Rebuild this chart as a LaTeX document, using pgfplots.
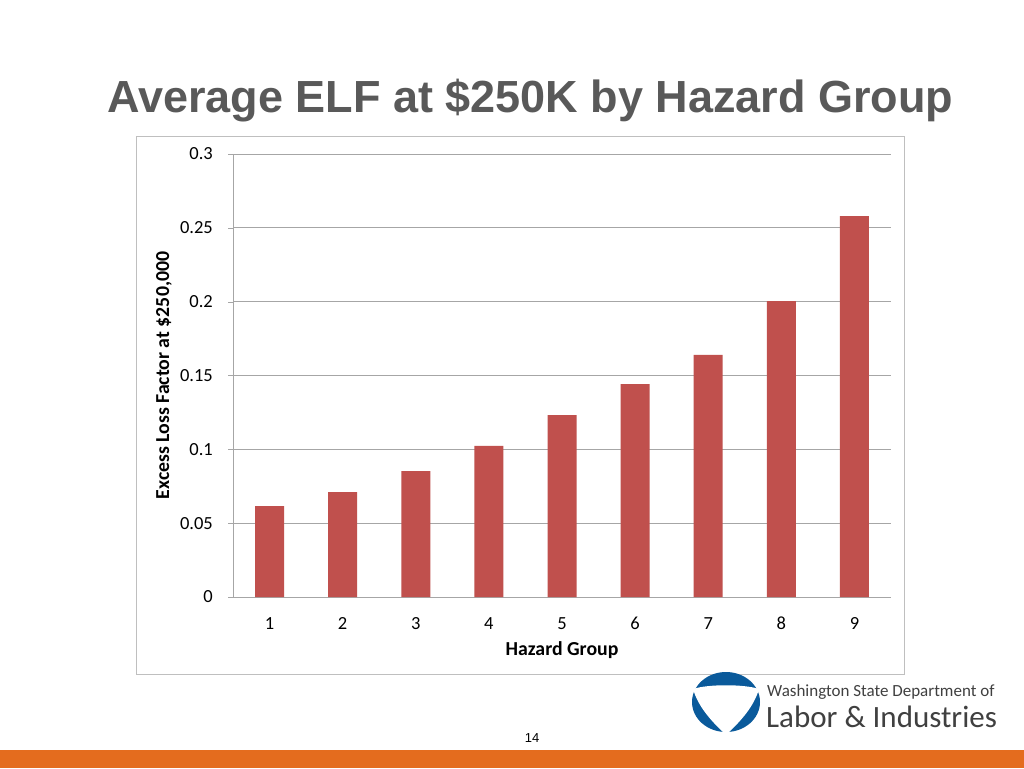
\documentclass[border=0pt]{standalone}
\usepackage{fontspec}
\setmainfont{Carlito}
\newfontfamily\arialfont{Liberation Sans}
\usepackage{pgfplots}
\pgfplotsset{compat=1.18}
\definecolor{barred}{RGB}{192,80,77}
\definecolor{titlegray}{RGB}{89,89,89}
\definecolor{slideorange}{RGB}{228,108,30}
\definecolor{logoblue}{RGB}{10,90,155}
\definecolor{logotext}{RGB}{64,64,64}
\begin{document}
\begin{tikzpicture}[x=1pt,y=1pt]
% slide drawn in screen pixels (y down), axis box lower-left corner at the origin
\begin{scope}[shift={(-233,597)},yscale=-1]
  \fill[white] (0,0) rectangle (1024,768);
  \fill[slideorange] (0,750) rectangle (1024,768);
  \node[anchor=base west, text=titlegray, inner sep=0pt,
        font=\arialfont\bfseries\fontsize{45}{50}\selectfont] at (107,113)
        {Average ELF at \$250K by Hazard Group};
  \draw[gray!50, line width=1pt] (137,137) rectangle (904,674);
  % logo
  \fill[logoblue] (726,702) ellipse [x radius=34, y radius=30];
  \fill[white] (693,689) .. controls (708,684) and (744,684) .. (759,689)
     .. controls (754,706) and (742,720) .. (726,735)
     .. controls (710,720) and (698,706) .. (693,689) -- cycle;
  \node[anchor=base west, text=logotext, inner sep=0pt,
        font=\fontsize{17}{20}\selectfont] at (767,696) {Washington State Department of};
  \node[anchor=base west, text=logotext, inner sep=0pt,
        font=\fontsize{31}{36}\selectfont] at (766,727) {Labor \& Industries};
  \node[anchor=base, inner sep=0pt, font=\arialfont\fontsize{13}{15}\selectfont]
        at (532,742) {14};
\end{scope}
\begin{axis}[
  anchor=south west,
  scale only axis, width=658pt, height=443pt,
  xmin=0.5, xmax=9.5, ymin=0, ymax=0.3,
  axis x line*=bottom, axis y line*=left,
  axis line style={gray!70, -},
  xtick={1,...,9}, xticklabels={1,2,3,4,5,6,7,8,9}, xtick style={draw=none},
  extra x ticks={0.5,1.5,...,9.5}, extra x tick labels={},
  extra x tick style={major tick length=5pt, tick style={gray!70, draw=gray!70}},
  ytick={0,0.05,0.1,0.15,0.2,0.25,0.3},
  yticklabels={0,0.05,0.1,0.15,0.2,0.25,0.3},
  ytick style={gray!70},
  tick align=outside, major tick length=5pt,
  ymajorgrids, grid style={gray!70, line width=0.8pt},
  ticklabel style={font=\fontsize{18.5}{22}\selectfont},
  yticklabel style={anchor=east, inner sep=0pt, xshift=-15pt},
  xticklabel style={anchor=base, inner sep=0pt, yshift=-27pt},
  xlabel={\bfseries Hazard Group},
  ylabel={\bfseries Excess Loss Factor at \$250,000},
  label style={font=\bfseries\fontsize{19.8}{23}\selectfont},
  xlabel style={at={(axis description cs:0.5,-0.1196)}, anchor=center},
  ylabel style={at={(axis description cs:-0.105,0.5)}, anchor=center},
  ybar, bar width=29pt,
]
\addplot[fill=barred, draw=none] coordinates
  {(1,0.0616) (2,0.0711) (3,0.0853) (4,0.1023) (5,0.1232) (6,0.1442) (7,0.1639) (8,0.2004) (9,0.2580)};
\end{axis}
\end{tikzpicture}
\end{document}
